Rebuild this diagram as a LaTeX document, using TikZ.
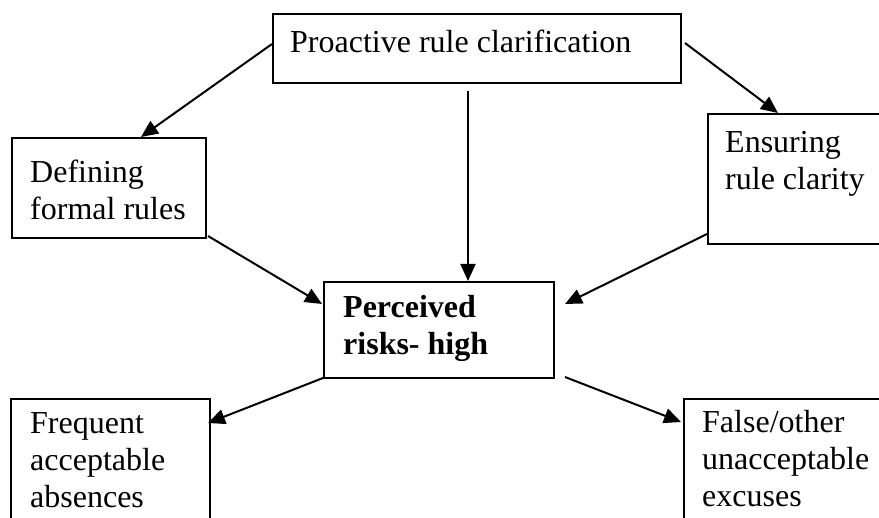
\documentclass[tikz,border=0pt]{standalone}
\usepackage{fontspec}
\setmainfont{Liberation Serif}
\usetikzlibrary{arrows.meta}
\begin{document}
\begin{tikzpicture}[x=1pt,y=-1pt,
  box/.style={draw, line width=2pt, inner sep=0pt, anchor=north west},
  lbl/.style={font=\fontsize{32}{37}\selectfont, align=left, inner sep=0pt, anchor=base west},
  arr/.style={line width=2pt, -{Triangle[length=17pt,width=15pt]}}]
\clip (0,0) rectangle (879,518);
\fill[white] (0,0) rectangle (879,518);
% boxes
\node[box, minimum width=408pt, minimum height=69pt] (top) at (272,13) {};
\node[box, minimum width=194pt, minimum height=100pt] (dl) at (11,137) {};
\node[box, minimum width=190pt, minimum height=130pt] (dr) at (707,113) {};
\node[box, minimum width=230pt, minimum height=96pt] (mid) at (323,281) {};
\node[box, minimum width=199pt, minimum height=140pt] (bl) at (10,398) {};
\node[box, minimum width=210pt, minimum height=140pt] (br) at (683,398) {};
% labels (anchor = baseline of the last line)
\node[lbl] (ttop) at (290,53) {Proactive rule clarification};
\node[lbl] (tdl) at (30,220) {Defining\\formal rules};
\node[lbl] (tdr) at (725,190) {Ensuring\\rule clarity};
\node[lbl, font=\fontsize{32}{37}\selectfont\bfseries] (tmid) at (343,355) {Perceived\\risks- high};
\node[lbl] (tbl) at (30,508) {Frequent\\acceptable\\absences};
\node[lbl] (tbr) at (702,507) {False/other\\unacceptable\\excuses};
% connectors
\draw[arr] ([yshift=4.5pt]top.west) -- ([xshift=32pt]dl.north);
\draw[arr] ([xshift=-9pt,yshift=-7pt]top.south) -- ([xshift=29pt]mid.north);
\draw[arr] ([xshift=3pt,yshift=5.5pt]top.east) -- ([xshift=-25pt]dr.north);
\draw[arr] ([xshift=1pt,yshift=3pt]dl.south east) -- ([xshift=-1pt,yshift=26pt]mid.west);
\draw[arr] ([yshift=-55pt]dr.west) -- ([xshift=10pt,yshift=26pt]mid.east);
\draw[arr] ([yshift=1pt]mid.south west) -- ([xshift=-3pt,yshift=-25pt]bl.north east);
\draw[arr] ([xshift=10pt,yshift=2pt]mid.south east) -- ([xshift=-2pt,yshift=-24pt]br.north west);
\end{tikzpicture}
\end{document}
